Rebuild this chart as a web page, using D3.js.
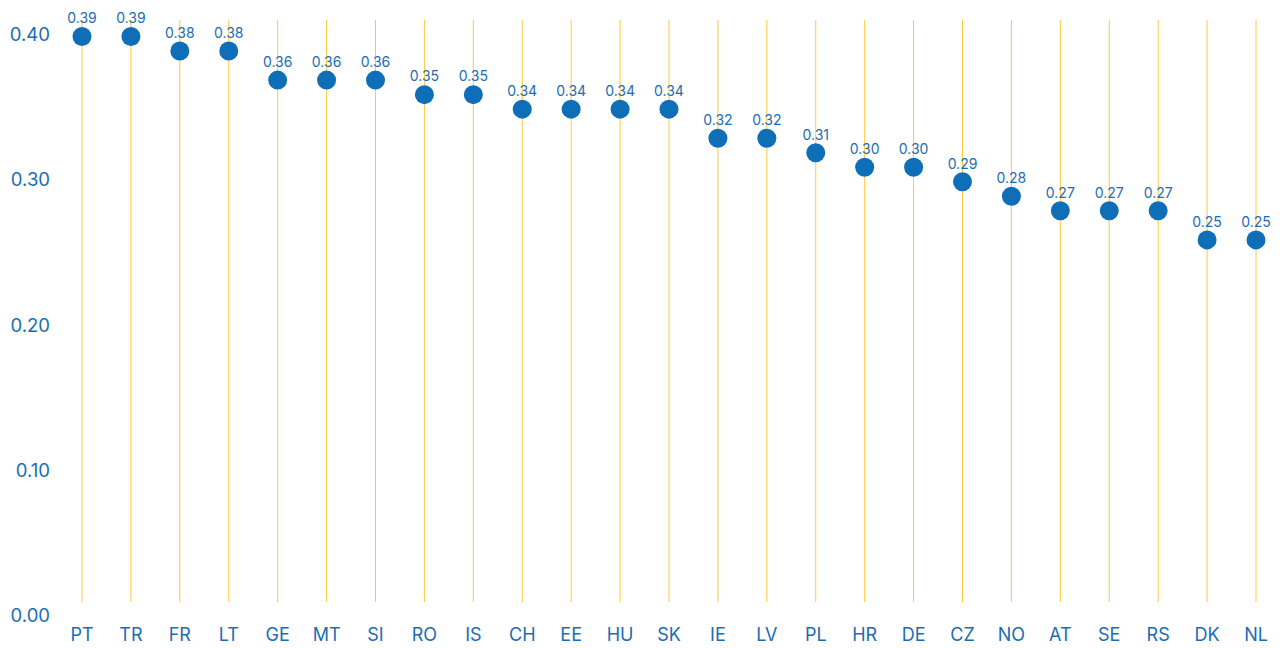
<!DOCTYPE html>
<html>
<head>
<meta charset="utf-8">
<script src="https://cdn.jsdelivr.net/npm/d3@7"></script>
<style>
  body { margin: 0; background: #fff; }
  text { font-family: Inter, "Open Sans", sans-serif; fill: #1a6db3; }
</style>
</head>
<body>
<div class="chart"></div>
<script>
var countries = ['PT', 'TR', 'FR', 'LT', 'GE', 'MT', 'SI', 'RO', 'IS', 'CH', 'EE', 'HU', 'SK',
  'IE', 'LV', 'PL', 'HR', 'DE', 'CZ', 'NO', 'AT', 'SE', 'RS', 'DK', 'NL'];
var values = [0.39, 0.39, 0.38, 0.38, 0.36, 0.36, 0.36, 0.35, 0.35, 0.34, 0.34, 0.34, 0.34,
  0.32, 0.32, 0.31, 0.30, 0.30, 0.29, 0.28, 0.27, 0.27, 0.27, 0.25, 0.25];
var yTicks = [0, 0.1, 0.2, 0.3, 0.4];

var svg = d3.select('.chart')
    .append('svg')
    .attr('width', 1280)
    .attr('height', 648);

var x = d3.scalePoint()
    .domain(countries)
    .range([82, 1256]);

var y = d3.scaleLinear()
    .domain([0, 0.4])
    .range([603, 22]);

// vertical guide lines
svg.selectAll('line.guide')
    .data(countries)
    .enter().append('line')
    .attr('class', 'guide')
    .attr('x1', function(d) { return x(d); })
    .attr('x2', function(d) { return x(d); })
    .attr('y1', 20)
    .attr('y2', 602)
    .attr('stroke', '#ffc93c')
    .attr('stroke-width', 1);

// y labels (sit a bit below their tick)
svg.selectAll('text.ytick')
    .data(yTicks)
    .enter().append('text')
    .attr('class', 'ytick')
    .attr('x', 50)
    .attr('y', function(d) { return y(d) + 14; })
    .attr('text-anchor', 'end')
    .attr('dominant-baseline', 'middle')
    .attr('font-size', 18.5)
    .text(d3.format('.2f'));

// x labels
svg.selectAll('text.xtick')
    .data(countries)
    .enter().append('text')
    .attr('class', 'xtick')
    .attr('x', function(d) { return x(d); })
    .attr('y', 636)
    .attr('text-anchor', 'middle')
    .attr('dominant-baseline', 'middle')
    .attr('font-size', 18)
    .text(function(d) { return d; });

var pts = countries.map(function(c, i) { return { c: c, v: values[i] }; });

svg.selectAll('circle')
    .data(pts)
    .enter().append('circle')
    .attr('cx', function(d) { return x(d.c); })
    .attr('cy', function(d) { return y(d.v); })
    .attr('r', 9.5)
    .style('fill', '#0e6eb8');

svg.selectAll('text.val')
    .data(pts)
    .enter().append('text')
    .attr('class', 'val')
    .attr('x', function(d) { return x(d.c); })
    .attr('y', function(d) { return y(d.v) - 17; })
    .attr('text-anchor', 'middle')
    .attr('dominant-baseline', 'middle')
    .attr('font-size', 14)
    .text(function(d) { return d3.format('.2f')(d.v); });
</script>
</body>
</html>
